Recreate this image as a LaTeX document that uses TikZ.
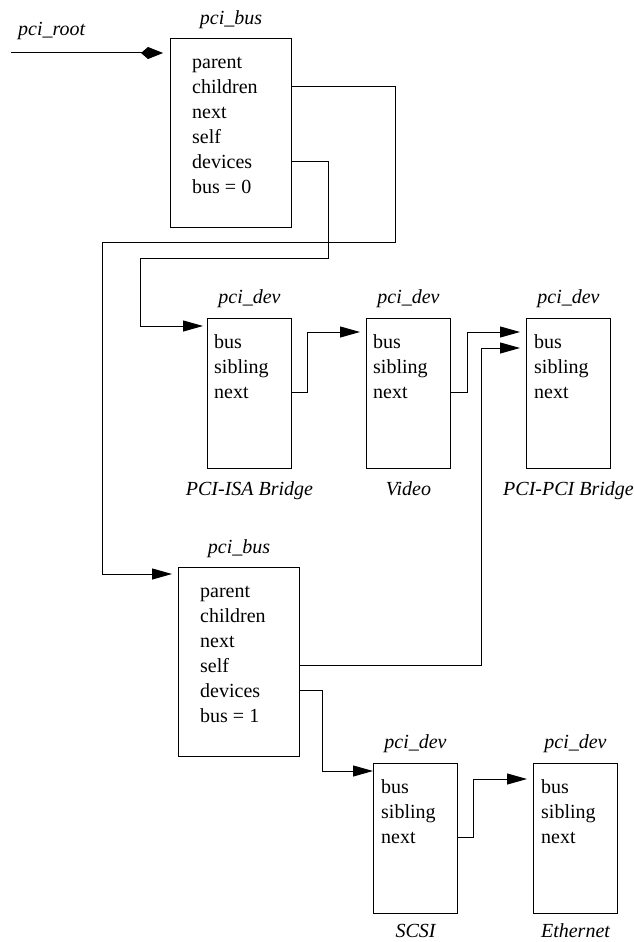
\documentclass[tikz,border=0pt]{standalone}
\usepackage{fontspec}
\setmainfont{Liberation Serif}
\usetikzlibrary{arrows.meta}

\tikzset{
  busbox/.style={draw, line width=1pt, inner sep=0pt, anchor=north west,
    minimum width=121pt, minimum height=189pt},
  devbox/.style={busbox, minimum width=84pt, minimum height=150pt},
  field/.style={inner sep=0pt, anchor=base west, font=\fontsize{20}{24}\selectfont},
  tag/.style={inner sep=0pt, anchor=base, font=\fontsize{20}{24}\selectfont\itshape},
  link/.style={line width=1pt, -{Triangle[length=20pt,width=11pt]}, shorten >=6pt}
}

\begin{document}
\begin{tikzpicture}[x=1pt,y=-1pt]
\useasboundingbox (0,0) rectangle (634,942);

\begin{scope}[shift={(170,38)}] %bus 0
 \node[busbox] (bus0) at (0,0) {};
 \foreach \f [count=\i] in {parent,children,next,self,devices,bus = 0}
 \node[field] (bus0-\i) at (22,{30+25*(\i-1)}) {\f};
 \node[tag] (bus0top) at ([yshift=13pt]bus0.north) {pci\_bus};
\end{scope}

\begin{scope}[shift={(178,567)}] %bus 1
 \node[busbox] (bus1) at (0,0) {};
 \foreach \f [count=\i] in {parent,children,next,self,devices,bus = 1}
 \node[field] (bus1-\i) at (22,{30+25*(\i-1)}) {\f};
 \node[tag] (bus1top) at ([yshift=14pt]bus1.north) {pci\_bus};
\end{scope}

\begin{scope}[shift={(207,318)}] %PCI-ISA
 \node[devbox] (isa) at (0,0) {};
 \foreach \f [count=\i] in {bus,sibling,next}
 \node[field] (isa-\i) at (7,{30+25*(\i-1)}) {\f};
 \node[tag] (isatop) at ([yshift=15pt]isa.north) {pci\_dev};
 \node[tag] (isaname) at ([yshift=-26pt]isa.south) {PCI-ISA Bridge};
\end{scope}

\begin{scope}[shift={(366,318)}] %video
 \node[devbox] (video) at (0,0) {};
 \foreach \f [count=\i] in {bus,sibling,next}
 \node[field] (video-\i) at (7,{30+25*(\i-1)}) {\f};
 \node[tag] (videotop) at ([yshift=15pt]video.north) {pci\_dev};
 \node[tag] (videoname) at ([yshift=-26pt]video.south) {Video};
\end{scope}

\begin{scope}[shift={(526,318)}] %PCI-PCI
 \node[devbox] (ppb) at (0,0) {};
 \foreach \f [count=\i] in {bus,sibling,next}
 \node[field] (ppb-\i) at (8,{30+25*(\i-1)}) {\f};
 \node[tag] (ppbtop) at ([yshift=15pt]ppb.north) {pci\_dev};
 \node[tag] (ppbname) at ([yshift=-26pt]ppb.south) {PCI-PCI Bridge};
\end{scope}

\begin{scope}[shift={(373,763)}] %SCSI
 \node[devbox] (scsi) at (0,0) {};
 \foreach \f [count=\i] in {bus,sibling,next}
 \node[field] (scsi-\i) at (8,{30+25*(\i-1)}) {\f};
 \node[tag] (scsitop) at ([yshift=15pt]scsi.north) {pci\_dev};
 \node[tag] (scsiname) at ([yshift=-23pt]scsi.south) {SCSI};
\end{scope}

\begin{scope}[shift={(533,763)}] %ethernet
 \node[devbox] (eth) at (0,0) {};
 \foreach \f [count=\i] in {bus,sibling,next}
 \node[field] (eth-\i) at (8,{30+25*(\i-1)}) {\f};
 \node[tag] (ethtop) at ([yshift=15pt]eth.north) {pci\_dev};
 \node[tag] (ethname) at ([yshift=-23pt]eth.south) {Ethernet};
\end{scope}

% root pointer
\coordinate (rootin) at (11,53);
\node[tag, anchor=base west] (root) at (18,36) {pci\_root};
\draw[line width=1pt, -{Kite[length=22pt,width=12pt,inset=7pt]}, shorten >=7pt]
 (rootin) -- (rootin -| bus0.west);

% links
\draw[link] (bus0.east |- bus0-2) -- ++(103,0) |- ([shift={(-68,14)}]bus0.south west)
 |- ([yshift=-7pt]bus1.north west);
\draw[link, shorten >=4pt] (bus0.east |- bus0-5) -- ++(36,0)
 |- ([shift={(-30,30)}]bus0.south west) |- ([yshift=-8pt]isa.north west);
\draw[link] (isa.east |- isa-3) -- ++(15,0) |- ([yshift=-14pt]video.north west);
\draw[link] (video.east |- video-3) -- ++(16,0) |- ([yshift=-14pt]ppb.north west);
\draw[link] (bus1.east |- bus1-4) -- ++(181,0) |- ([yshift=-30pt]ppb.north west);
\draw[link, shorten >=0pt] (bus1.east |- bus1-5) -- ++(22,0) |- ([yshift=-8pt]scsi.north west);
\draw[link] (scsi.east |- scsi-3) -- ++(15,0) |- ([yshift=-16pt]eth.north west);

\end{tikzpicture}
\end{document}
